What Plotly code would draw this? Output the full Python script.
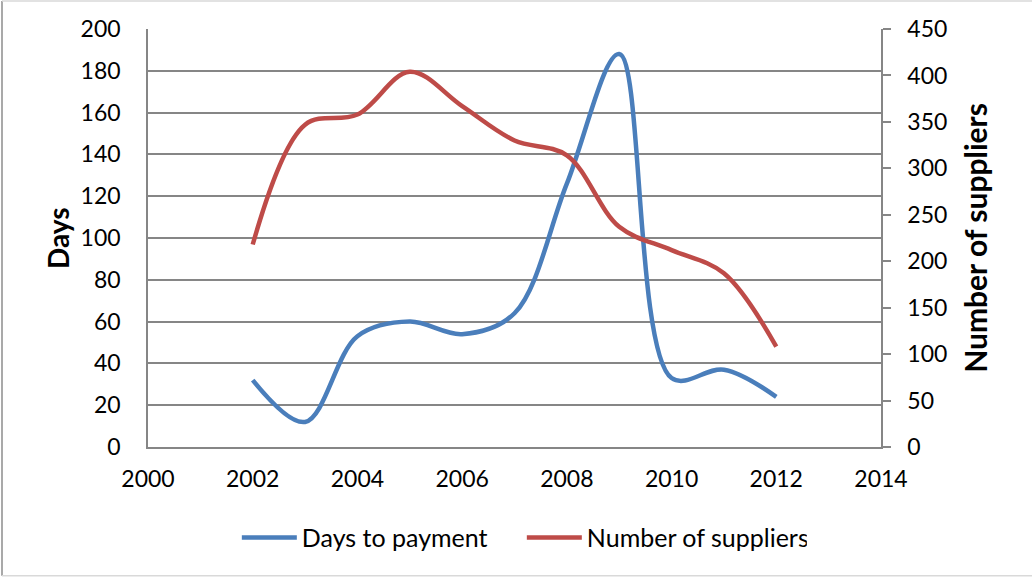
import plotly.graph_objects as go

years = [2002, 2003, 2004, 2005, 2006, 2007, 2008, 2009, 2010, 2011, 2012]
days_to_payment = [32, 12, 53, 60, 54, 64, 126, 188, 33, 37, 24]
number_of_suppliers = [218, 347, 358, 404, 367, 330, 314, 237, 212, 187, 108]

FONT = "Lato"
GRID = "#868686"

fig = go.Figure()
fig.add_trace(go.Scatter(
    x=years, y=days_to_payment, name="Days to payment", mode="lines",
    line=dict(color="#4A7EBB", width=4.5, shape="spline", smoothing=1.0),
    yaxis="y"))
fig.add_trace(go.Scatter(
    x=years, y=number_of_suppliers, name="Number of suppliers", mode="lines",
    line=dict(color="#BE4B48", width=4.5, shape="spline", smoothing=1.0),
    yaxis="y2"))

fig.update_layout(
    width=1033, height=577,
    margin=dict(l=148, r=152, t=29, b=130),
    paper_bgcolor="white", plot_bgcolor="white",
    font=dict(family=FONT, size=23, color="black"),
    showlegend=True,
    legend=dict(orientation="h", x=0.510, y=-0.217, xanchor="center", yanchor="middle",
                font=dict(family=FONT, size=25), itemwidth=55, entrywidth=215,
                traceorder="normal"),
    xaxis=dict(range=[2000, 2014], dtick=2, tick0=2000, showgrid=False,
               showline=True, linecolor=GRID, linewidth=1.5, ticks="",
               ticklabelstandoff=11, zeroline=False),
    yaxis=dict(range=[0, 200], dtick=20, showgrid=True, gridcolor=GRID, gridwidth=1.5,
               showline=True, linecolor=GRID, linewidth=1.5, ticks="",
               ticklabelstandoff=21, zeroline=False),
    yaxis2=dict(range=[0, 450], dtick=50, overlaying="y", side="right", showgrid=False,
                showline=True, linecolor=GRID, linewidth=1.5, ticks="outside",
                ticklen=8, tickcolor=GRID, tickwidth=1.5, ticklabelstandoff=12,
                zeroline=False),
    annotations=[
        dict(text="<b>Days</b>", xref="paper", yref="paper", x=-0.1228, y=0.5,
             textangle=-90, showarrow=False, xanchor="center", yanchor="middle",
             font=dict(family=FONT, size=28)),
        dict(text="<b>Number of suppliers</b>", xref="paper", yref="paper", x=1.128, y=0.5,
             textangle=-90, showarrow=False, xanchor="center", yanchor="middle",
             font=dict(family=FONT, size=30)),
    ],
    shapes=[
        dict(type="line", xref="paper", yref="paper", x0=(2 - 148) / 733, x1=(2 - 148) / 733,
             y0=(446.5 - 575) / 417.5, y1=(446.5 - 1) / 417.5, line=dict(color="#8c8c8c", width=1.5)),
        dict(type="line", xref="paper", yref="paper", x0=(2 - 148) / 733, x1=(1032 - 148) / 733,
             y0=(446.5 - 575) / 417.5, y1=(446.5 - 575) / 417.5, line=dict(color="#d9d9d9", width=1.5)),
        dict(type="line", xref="paper", yref="paper", x0=(2 - 148) / 733, x1=(1032 - 148) / 733,
             y0=(446.5 - 1) / 417.5, y1=(446.5 - 1) / 417.5, line=dict(color="#d9d9d9", width=1.5)),
    ],
)

fig.write_html("out.html", config={"displayModeBar": False},
               post_script="document.body.style.margin='0';document.body.style.padding='0';")
